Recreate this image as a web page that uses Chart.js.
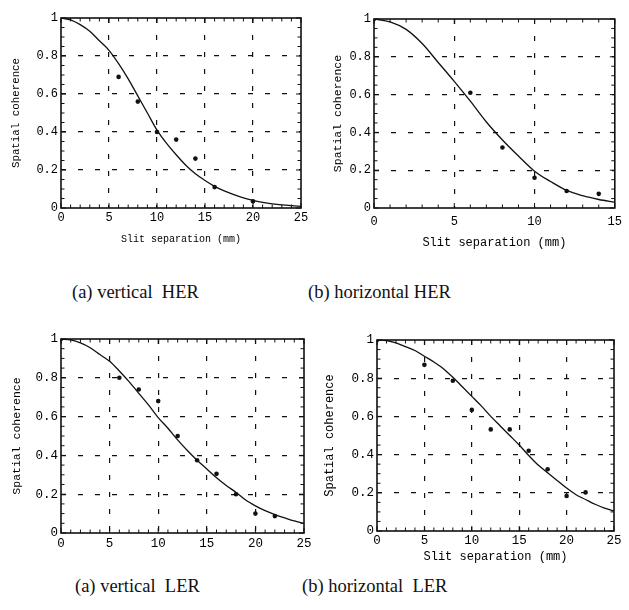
<!DOCTYPE html>
<html>
<head>
<meta charset="utf-8">
<script src="https://cdn.jsdelivr.net/npm/chart.js@4.4.1/dist/chart.umd.min.js"></script>
<style>
  body { margin: 0; background: #fff; width: 629px; height: 610px; position: relative; overflow: hidden; }
  canvas { position: absolute; }
  .cap { position: absolute; font-family: "Liberation Serif", "Times New Roman", serif; font-size: 18.5px; color: #111; white-space: pre; line-height: 1; }
</style>
</head>
<body>
<canvas id="c1" width="315" height="250" style="left:0px;top:0px"></canvas>
<canvas id="c2" width="314" height="255" style="left:315px;top:0px"></canvas>
<canvas id="c3" width="315" height="240" style="left:0px;top:320px"></canvas>
<canvas id="c4" width="314" height="250" style="left:315px;top:320px"></canvas>
<div class="cap" style="left:72px;top:283px">(a) vertical  HER</div>
<div class="cap" style="left:308px;top:283px">(b) horizontal HER</div>
<div class="cap" style="left:75px;top:577px">(a) vertical  LER</div>
<div class="cap" style="left:302px;top:577px">(b) horizontal  LER</div>
<script>
// measured points (slit separation mm, coherence)
var sepVH = [6, 8, 10, 12, 14, 16, 20];
var cohVH = [0.69, 0.56, 0.40, 0.36, 0.26, 0.11, 0.035];
var sepHH = [0, 6, 8, 10, 12, 14];
var cohHH = [1, 0.61, 0.32, 0.16, 0.09, 0.075];
var sepVL = [0, 6, 8, 10, 12, 14, 16, 18, 20, 22];
var cohVL = [1, 0.80, 0.74, 0.68, 0.50, 0.375, 0.305, 0.20, 0.10, 0.087];
var sepHL = [0, 5, 8, 10, 12, 14, 16, 18, 20, 22];
var cohHL = [1, 0.87, 0.787, 0.634, 0.532, 0.532, 0.42, 0.323, 0.183, 0.202];

// fitted curves
var fitX25 = [0,1,2,3,4,5,6,7,8,9,10,11,12,13,14,15,16,17,18,19,20,21,22,23,24,25];
var fitX15 = [0,1,2,3,4,5,6,7,8,9,10,11,12,13,14,15];
var fitVH = [1,0.99,0.965,0.93,0.88,0.83,0.76,0.68,0.59,0.50,0.41,0.34,0.28,0.225,0.18,0.145,0.114,0.09,0.07,0.053,0.04,0.03,0.022,0.016,0.012,0.009];
var fitHH = [1,0.985,0.945,0.87,0.77,0.67,0.565,0.455,0.36,0.275,0.195,0.14,0.093,0.065,0.045,0.03];
var fitVL = [1,0.995,0.98,0.955,0.92,0.885,0.835,0.78,0.72,0.66,0.595,0.54,0.48,0.425,0.375,0.33,0.285,0.245,0.21,0.17,0.14,0.115,0.095,0.078,0.062,0.05];
var fitHL = [1,0.997,0.985,0.965,0.945,0.915,0.885,0.85,0.805,0.755,0.705,0.655,0.60,0.55,0.50,0.45,0.395,0.345,0.305,0.265,0.225,0.19,0.165,0.14,0.12,0.105];

var yTicks = [0, 0.2, 0.4, 0.6, 0.8, 1];
var MONO = "'Liberation Mono', 'DejaVu Sans Mono', monospace";

function pairs(xs, ys) {
	var out = [];
	for (var i in xs) out.push({x: xs[i], y: ys[i]});
	return out;
}

// frame with inward minor ticks on all four sides
var frame = {
	id: 'frame',
	afterDatasetsDraw: function(chart) {
		var ctx = chart.ctx, a = chart.chartArea;
		var sx = chart.scales.x, sy = chart.scales.y;
		ctx.save();
		ctx.strokeStyle = '#111';
		ctx.lineWidth = 1;
		ctx.beginPath();
		for (var v = sx.min; v <= sx.max + 1e-9; v += 1) {
			var px = sx.getPixelForValue(v);
			var l = (v % 5 === 0) ? 5 : 3.5;
			ctx.moveTo(px, a.bottom); ctx.lineTo(px, a.bottom - l);
			ctx.moveTo(px, a.top); ctx.lineTo(px, a.top + l);
		}
		for (var k = 0; k <= 20; k++) {
			var py = sy.getPixelForValue(k * 0.05);
			var m = (k % 4 === 0) ? 5 : 3.5;
			ctx.moveTo(a.left, py); ctx.lineTo(a.left + m, py);
			ctx.moveTo(a.right, py); ctx.lineTo(a.right - m, py);
		}
		ctx.stroke();
		ctx.lineWidth = 1.6;
		ctx.strokeRect(a.left, a.top, a.right - a.left, a.bottom - a.top);
		ctx.restore();
	}
};

function makeChart(id, o) {
	var gridColor = function(c) {
		var v = c.tick ? c.tick.value : null;
		return (v === c.scale.min || v === c.scale.max) ? 'rgba(0,0,0,0)' : '#111';
	};
	return new Chart(document.getElementById(id), {
		type: 'scatter',
		data: {
			datasets: [
				{
					data: pairs(o.fx, o.fy),
					showLine: true,
					cubicInterpolationMode: 'monotone',
					borderColor: '#111',
					borderWidth: 1.3,
					pointRadius: 0
				},
				{
					data: pairs(o.px, o.py),
					pointRadius: 2.3,
					pointBackgroundColor: '#111',
					pointBorderWidth: 0
				}
			]
		},
		options: {
			responsive: false,
			animation: false,
			events: [],
			layout: { padding: { top: o.pt, right: o.pr, left: 0, bottom: 0 } },
			plugins: { legend: { display: false }, tooltip: { enabled: false } },
			scales: {
				x: {
					type: 'linear', min: 0, max: o.xmax,
					afterFit: function(s) { s.height = o.xh; },
					ticks: { stepSize: 5, padding: o.xtp, color: '#000', maxRotation: 0,
						font: { family: MONO, size: o.tickSize } },
					grid: { color: gridColor, lineWidth: 1.2, drawTicks: false },
					border: { display: false, dash: [5, 12] },
					title: { display: o.xTitle, text: 'Slit separation (mm)', color: '#000',
						padding: { top: 0, bottom: o.xtb }, font: { family: MONO, size: o.xTitleSize } }
				},
				y: {
					type: 'linear', min: 0, max: 1,
					afterFit: function(s) { s.width = o.yw; },
					afterBuildTicks: function(s) { s.ticks = yTicks.map(function(v) { return {value: v}; }); },
					ticks: { padding: 3, color: '#000',
						callback: function(v) { return String(+v.toFixed(1)); },
						font: { family: MONO, size: o.tickSize } },
					grid: { color: gridColor, lineWidth: 1.2, drawTicks: false },
					border: { display: false, dash: [5, 12] },
					title: { display: true, text: 'Spatial coherence', color: '#000',
						padding: { top: o.ytp, bottom: 0 }, font: { family: MONO, size: o.yTitleSize } }
				}
			}
		},
		plugins: [frame]
	});
}

makeChart('c1', { fx: fitX25, fy: fitVH, px: sepVH, py: cohVH, xmax: 25,
	pt: 18, pr: 14, xh: 42, yw: 61, xtp: 3, xtb: 5, ytp: 10,
	tickSize: 12, xTitle: true, xTitleSize: 10, yTitleSize: 10.8 });
makeChart('c2', { fx: fitX15, fy: fitHH, px: sepHH, py: cohHH, xmax: 15,
	pt: 19, pr: 10, xh: 47, yw: 59, xtp: 7, xtb: 5, ytp: 16,
	tickSize: 12, xTitle: true, xTitleSize: 12, yTitleSize: 11.5 });
makeChart('c3', { fx: fitX25, fy: fitVL, px: sepVL, py: cohVL, xmax: 25,
	pt: 19, pr: 11, xh: 27, yw: 61, xtp: 3, xtb: 0, ytp: 10,
	tickSize: 12.5, xTitle: false, xTitleSize: 12, yTitleSize: 11.5 });
makeChart('c4', { fx: fitX25, fy: fitHL, px: sepHL, py: cohHL, xmax: 25,
	pt: 20, pr: 15, xh: 39, yw: 62, xtp: 2, xtb: 6, ytp: 8,
	tickSize: 12.5, xTitle: true, xTitleSize: 12, yTitleSize: 12 });
</script>
</body>
</html>
